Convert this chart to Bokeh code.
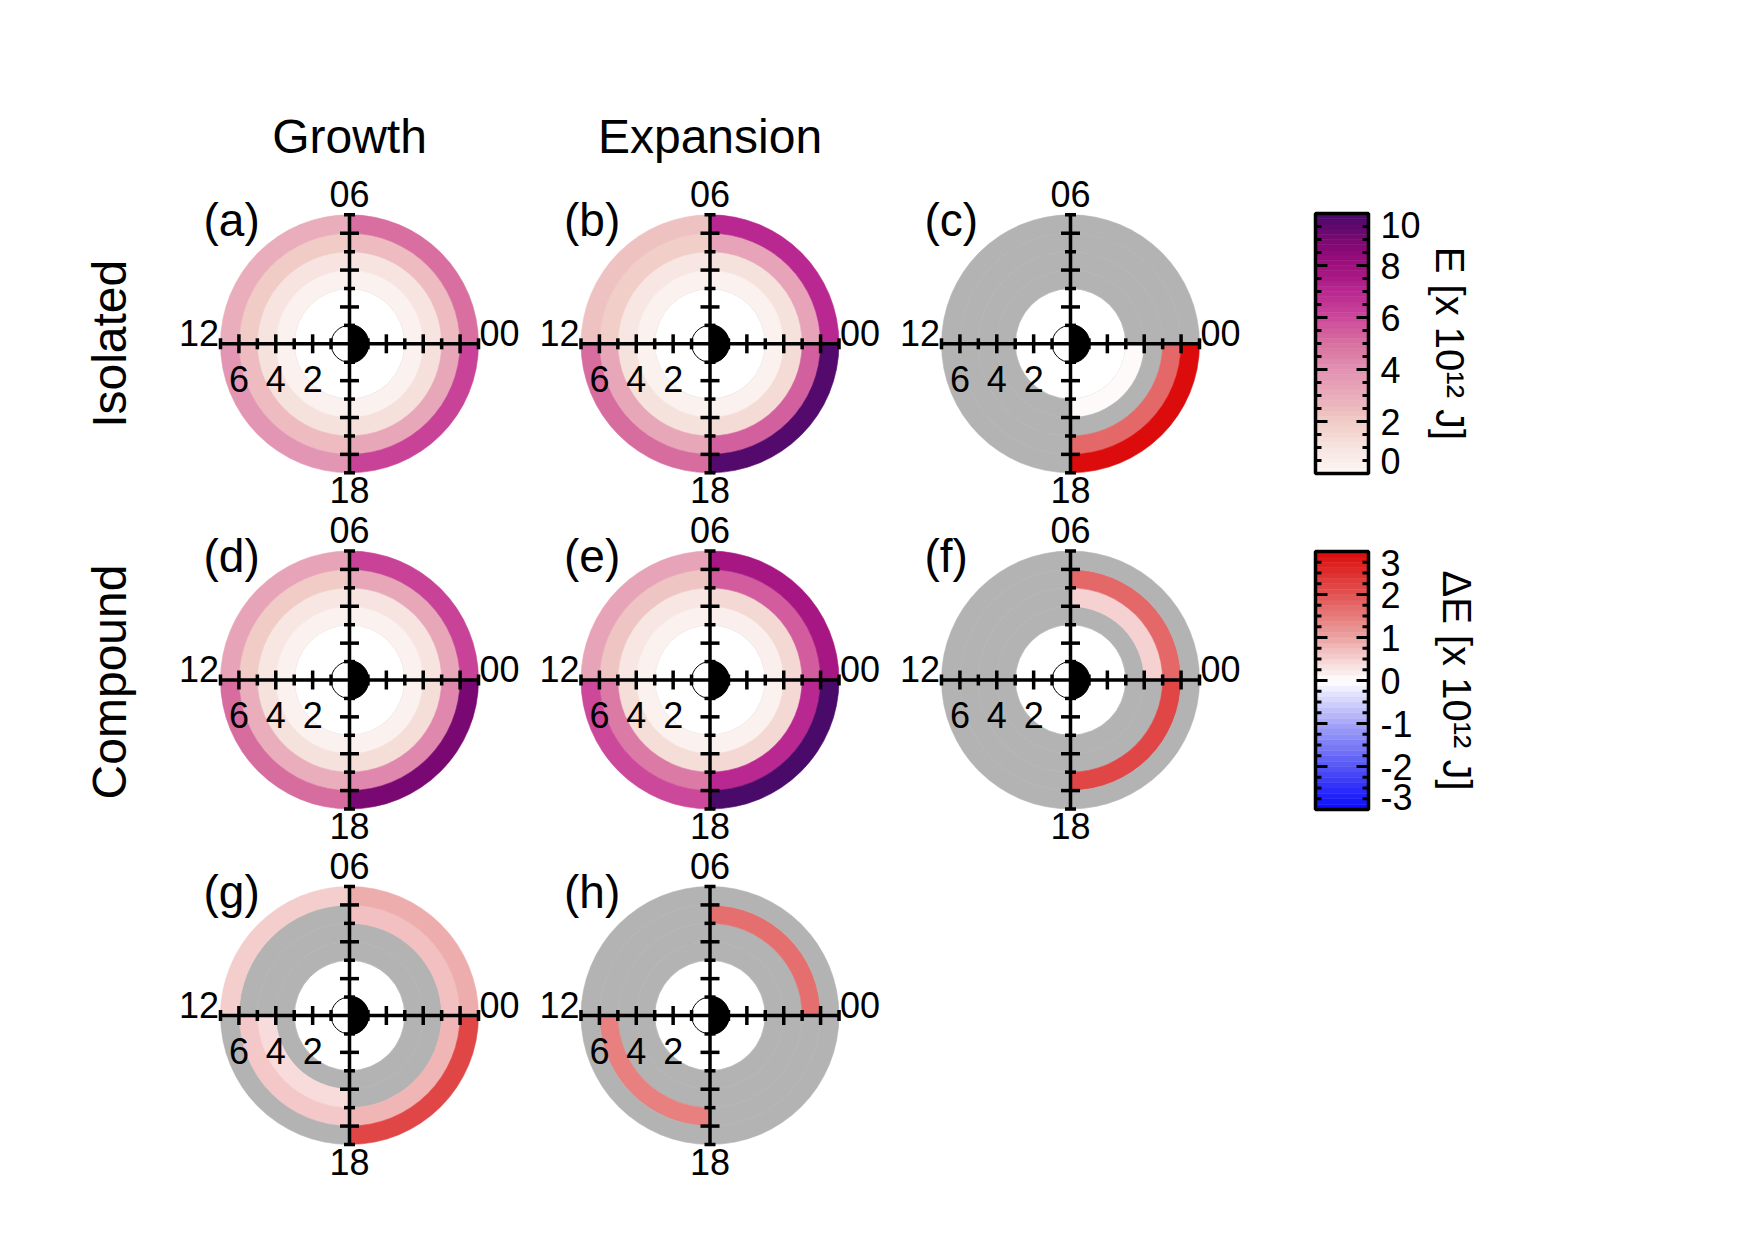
import numpy as np
from bokeh.plotting import figure
from bokeh.models import Range1d, ColumnDataSource, LinearColorMapper
from bokeh.transform import transform
from bokeh.embed import file_html
from bokeh.resources import INLINE
from bokeh.core.properties import value

nan = float("nan")

# ---------------- data ----------------
L_EDGES = [3, 4, 5, 6, 7]            # L-shell bins
MLT_EDGES = [0, 6, 12, 18, 24]       # MLT sectors: 00-06, 06-12, 12-18, 18-24
# rows: MLT sector 00-06, 06-12, 12-18, 18-24 ; columns: L 3-4, 4-5, 5-6, 6-7
growth_isolated    = [[0.3, 1.0, 2.5, 5.0], [0.3, 1.0, 2.0, 3.0], [0.3, 1.1, 2.5, 3.8], [0.3, 1.2, 3.2, 6.2]]
expansion_isolated = [[0.3, 1.1, 3.3, 7.0], [0.3, 0.9, 1.9, 2.3], [0.3, 1.1, 3.2, 5.1], [0.3, 1.4, 5.4, 9.8]]
diff_isolated      = [[nan, nan, nan, nan], [nan, nan, nan, nan], [nan, nan, nan, nan], [0.05, nan, 1.75, 3.0]]
growth_compound    = [[0.3, 1.0, 3.2, 6.2], [0.3, 0.9, 2.0, 3.3], [0.3, 1.1, 3.0, 5.1], [0.3, 1.3, 4.3, 9.0]]
expansion_compound = [[0.4, 1.5, 5.5, 7.7], [0.3, 0.9, 2.2, 3.3], [0.3, 1.3, 4.7, 6.0], [0.3, 1.5, 7.0, 10.0]]
diff_compound      = [[nan, 0.5, 1.75, nan], [nan, nan, nan, nan], [nan, nan, nan, nan], [nan, nan, 2.2, nan]]
diff_growth        = [[nan, nan, 0.7, 0.9], [nan, nan, nan, 0.55], [nan, 0.38, 0.6, nan], [nan, nan, 0.82, 2.2]]
diff_expansion     = [[nan, nan, 1.65, nan], [nan, nan, nan, nan], [nan, nan, 1.45, nan], [nan, nan, nan, nan]]

L_TICKS = [1, 2, 3, 4, 5, 6, 7]
L_MAJOR = [2, 4, 6]
L_LABELS = ["6", "4", "2"]
L_LABEL_POS = [6, 4, 2]
MLT_LABELS = ["00", "06", "12", "18"]

E_RANGE = (0, 10)
E_TICKS = [0, 2, 4, 6, 8, 10]
D_RANGE = (-3, 3)
D_TICKS = [-3, -2, -1, 0, 1, 2, 3]

COL_TITLES = ["Growth", "Expansion"]
ROW_TITLES = ["Isolated", "Compound"]

# ---------------- style / layout ----------------
W, H = 1738, 1223
PAGE_H = 1239
FONT = value("Liberation Sans")
GRAY = "#b3b3b3"
SCALE = 18.43                      # px per unit L
COL_X = [349.0, 709.5, 1070.0]     # x of dial centres
ROW_Y = [343.3, 679.5, 1015.0]     # y (from top) of dial centres


def py(y):
    return PAGE_H - y


def interp_palette(anchors, n):
    a = np.array(anchors, float)
    t = np.linspace(0, 1, len(a))
    out = []
    for u in np.linspace(0, 1, n):
        r, g, b = (np.interp(u, t, a[:, k]) for k in range(3))
        out.append("#%02x%02x%02x" % (int(round(r)), int(round(g)), int(round(b))))
    return out


E_ANCH = [(252, 246, 243), (247, 228, 224), (241, 203, 197), (233, 172, 187), (226, 145, 177),
          (216, 112, 160), (204, 72, 154), (184, 40, 144), (160, 16, 126), (122, 8, 114), (74, 10, 106)]
D_ANCH = [(10, 10, 255), (85, 85, 245), (165, 165, 248), (255, 255, 255),
          (236, 164, 164), (226, 84, 84), (220, 12, 12)]
E_PAL = interp_palette(E_ANCH, 256)
D_PAL = interp_palette(D_ANCH, 256)
e_map = LinearColorMapper(palette=E_PAL, low=E_RANGE[0], high=E_RANGE[1], nan_color=GRAY)
d_map = LinearColorMapper(palette=D_PAL, low=D_RANGE[0], high=D_RANGE[1], nan_color=GRAY)

PANELS = [
    ("(a)", growth_isolated, "E", 0, 0),
    ("(b)", expansion_isolated, "E", 1, 0),
    ("(c)", diff_isolated, "D", 2, 0),
    ("(d)", growth_compound, "E", 0, 1),
    ("(e)", expansion_compound, "E", 1, 1),
    ("(f)", diff_compound, "D", 2, 1),
    ("(g)", diff_growth, "D", 0, 2),
    ("(h)", diff_expansion, "D", 1, 2),
]

p = figure(width=W, height=H, x_range=Range1d(0, W), y_range=Range1d(PAGE_H - H, PAGE_H),
           output_backend="svg", toolbar_location=None, min_border=0,
           x_axis_type=None, y_axis_type=None)
p.grid.visible = False
p.outline_line_color = None
p.background_fill_color = "white"
p.border_fill_color = "white"

cells = {"E": dict(x=[], y=[], r0=[], r1=[], a0=[], a1=[], v=[]),
         "D": dict(x=[], y=[], r0=[], r1=[], a0=[], a1=[], v=[])}
for lab, vals, kind, ci, ri in PANELS:
    cx, cy = COL_X[ci], py(ROW_Y[ri])
    for si in range(4):
        for li in range(4):
            c = cells[kind]
            c["x"].append(cx); c["y"].append(cy)
            c["r0"].append(L_EDGES[li] * SCALE); c["r1"].append(L_EDGES[li + 1] * SCALE)
            c["a0"].append(np.radians(MLT_EDGES[si] * 15)); c["a1"].append(np.radians(MLT_EDGES[si + 1] * 15))
            c["v"].append(vals[si][li])

# faint circle at inner boundary
p.circle(x=[COL_X[ci] for _, _, _, ci, _ in PANELS], y=[py(ROW_Y[ri]) for *_, ri in PANELS],
         radius=L_EDGES[0] * SCALE, fill_color=None, line_color="#d4d4d4", line_width=0.8)

for kind, mp in (("E", e_map), ("D", d_map)):
    c = {k: np.array(v, float) for k, v in cells[kind].items()}
    src = ColumnDataSource(c)
    p.annular_wedge(x="x", y="y", inner_radius="r0", outer_radius="r1", start_angle="a0", end_angle="a1",
                    source=src, fill_color=transform("v", mp), line_color=transform("v", mp), line_width=0.6)

# earth, axes, ticks
seg = dict(x0=[], y0=[], x1=[], y1=[])
def add_seg(a, b, c, d):
    seg["x0"].append(a); seg["y0"].append(b); seg["x1"].append(c); seg["y1"].append(d)

ex, ey = [], []
for lab, vals, kind, ci, ri in PANELS:
    cx, cy = COL_X[ci], py(ROW_Y[ri])
    ex.append(cx); ey.append(cy)
    R = L_TICKS[-1] * SCALE
    add_seg(cx - R, cy, cx + R, cy)
    add_seg(cx, cy - R, cx, cy + R)
    for L in L_TICKS:
        h = 9.5 if L in L_MAJOR else 5.5
        d = L * SCALE
        for sgn in (-1, 1):
            add_seg(cx + sgn * d, cy - h, cx + sgn * d, cy + h)
            add_seg(cx - h, cy + sgn * d, cx + h, cy + sgn * d)

p.circle(x=ex, y=ey, radius=1.0 * SCALE, fill_color="white", line_color="black", line_width=1)
p.wedge(x=ex, y=ey, radius=1.05 * SCALE, start_angle=-np.pi / 2, end_angle=np.pi / 2,
        fill_color="black", line_color="black")
p.segment(x0="x0", y0="y0", x1="x1", y1="y1", source=ColumnDataSource(seg), line_color="black",
          line_width=3.5)

# dial labels
small = value("36px")
for lab, vals, kind, ci, ri in PANELS:
    cx, cyp = COL_X[ci], ROW_Y[ri]
    R = L_TICKS[-1] * SCALE
    common = dict(text_baseline="middle", text_font=FONT, text_font_size=small)
    p.text(x=[cx], y=[py(cyp - 150)], text=[MLT_LABELS[1]], text_align="center", **common)
    p.text(x=[cx], y=[py(cyp + 146)], text=[MLT_LABELS[3]], text_align="center", **common)
    p.text(x=[cx - R - 1.5], y=[py(cyp - 11)], text=[MLT_LABELS[2]], text_align="right", **common)
    p.text(x=[cx + R + 1], y=[py(cyp - 11)], text=[MLT_LABELS[0]], text_align="left", **common)
    p.text(x=[cx - L * SCALE for L in L_LABEL_POS], y=[py(cyp + 35)] * len(L_LABEL_POS), text=L_LABELS,
           text_align="center", **common)
    p.text(x=[cx - 146], y=[py(cyp - 124)], text=[lab], text_align="left", text_baseline="middle",
           text_font=FONT, text_font_size=value("46px"))

# column and row titles
p.text(x=COL_X[:2], y=[py(136)] * 2, text=COL_TITLES, text_align="center", text_baseline="middle",
       text_font=FONT, text_font_size=value("48px"))
p.text(x=[109, 109], y=[py(ROW_Y[0]), py(ROW_Y[1] + 2)], text=ROW_TITLES, angle=np.pi / 2,
       text_align="center", text_baseline="middle", text_font=FONT, text_font_size=value("48px"))

# colour bars
def colorbar(mp, lo, hi, ticks, minor_step, top, bottom, title, title_x, nsteps):
    left, right = 1315.0, 1368.0
    def ypg(v):
        return bottom - (v - lo) / (hi - lo) * (bottom - top)
    edges = np.linspace(lo, hi, nsteps + 1)
    src = ColumnDataSource(dict(b=[py(ypg(e)) for e in edges[:-1]], t=[py(ypg(e)) for e in edges[1:]],
                                v=list((edges[:-1] + edges[1:]) / 2)))
    p.quad(left=left, right=right, bottom="b", top="t", source=src, fill_color=transform("v", mp),
           line_color=transform("v", mp), line_width=0.5)
    s = dict(x0=[], y0=[], x1=[], y1=[])
    minor = np.arange(lo, hi + 1e-9, minor_step)
    for v in minor:
        ln = 12 if any(abs(v - t) < 1e-9 for t in ticks) else 6
        yy = py(ypg(v))
        s["x0"] += [left, right]; s["x1"] += [left + ln, right - ln]
        s["y0"] += [yy, yy]; s["y1"] += [yy, yy]
    p.segment(x0="x0", y0="y0", x1="x1", y1="y1", source=ColumnDataSource(s), line_color="black", line_width=3)
    p.quad(left=[left], right=[right], bottom=[py(bottom)], top=[py(top)], fill_color=None,
           line_color="black", line_width=3.5)
    ly = []
    for v in ticks:
        yy = ypg(v)
        if v == hi:
            yy += 11
        if v == lo:
            yy -= 13
        ly.append(py(yy))
    p.text(x=[1380] * len(ticks), y=ly, text=[str(t) for t in ticks], text_align="left",
           text_baseline="middle", text_font=FONT, text_font_size=value("36px"))
    p.text(x=[title_x], y=[py((top + bottom) / 2)], text=[title], angle=-np.pi / 2, text_align="center",
           text_baseline="middle", text_font=FONT, text_font_size=value("40px"))

colorbar(e_map, E_RANGE[0], E_RANGE[1], E_TICKS, 0.5, 213, 473, "E [x 10\u00b9\u00b2 J]", 1449, 50)
colorbar(d_map, D_RANGE[0], D_RANGE[1], D_TICKS, 0.25, 551, 809, "\u0394E [x 10\u00b9\u00b2 J]", 1456, 48)

open("out.html", "w").write(file_html(p, INLINE))
